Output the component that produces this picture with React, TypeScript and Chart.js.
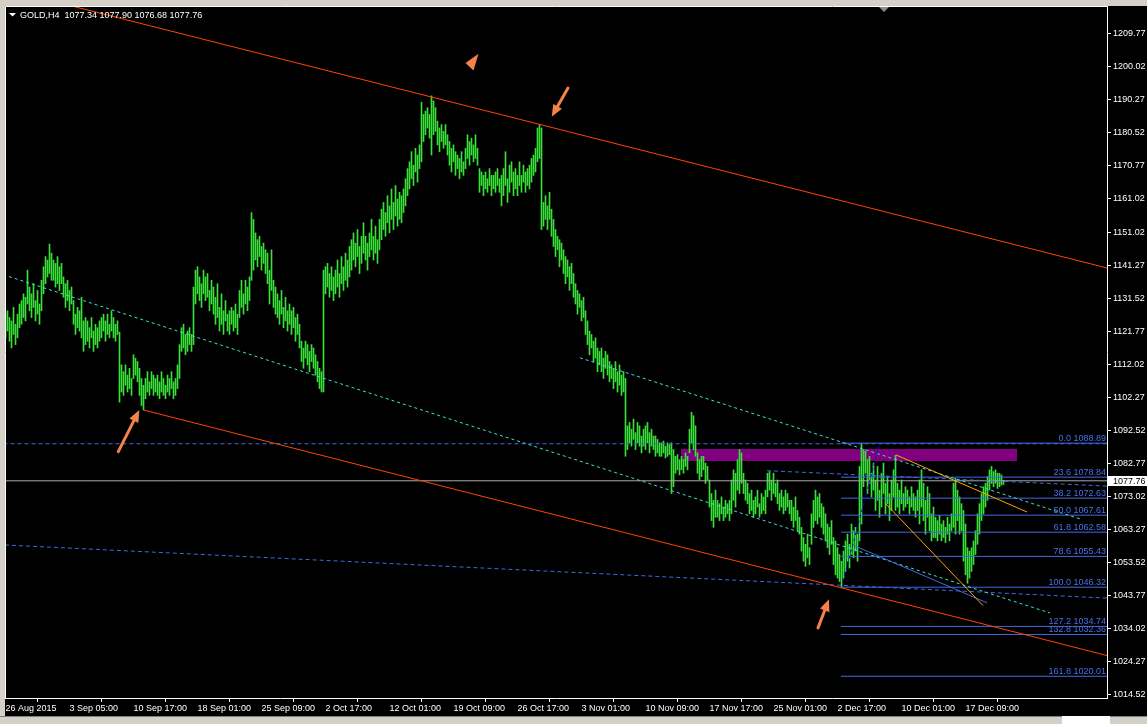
import React, { useEffect, useRef } from 'react';
import { Chart, registerables } from 'chart.js';
Chart.register(...registerables);

// ---- H4 bars (low / high), one per bar index ----
const lows = [
  1120,1122,1119,1117,1121,1118,1120,1123,1124,1126,
  1125,1130,1128,1126,1129,1125,1127,1124,1128,1133,
  1136,1138,1139,1137,1137,1135,1136,1134,1136,1132,
  1129,1131,1128,1130,1124,1121,1123,1122,1120,1116,
  1118,1119,1117,1120,1116,1118,1117,1119,1120,1122,
  1119,1121,1120,1122,1120,1119,1121,1101,1104,1103,
  1106,1104,1105,1103,1108,1109,1107,1103,1100,1098.7,
  1102,1104,1103,1105,1103,1104,1103,1102,1104,1103,
  1102,1104,1103,1105,1102,1103,1105,1108,1116,1117,
  1115,1116,1118,1116,1118,1130,1133,1131,1129,1133,
  1131,1132,1128,1130,1127,1124,1126,1122,1124,1121,
  1125,1122,1121,1124,1122,1123,1121,1126,1129,1127,
  1130,1128,1131,1137,1140,1143,1141,1144,1140,1142,
  1139,1136,1130,1134,1129,1127,1126,1124,1127,1123,
  1125,1122,1124,1121,1123,1119,1121,1117,1113,1111,
  1114,1112,1110,1113,1111,1109,1107,1105,1104,1104,
  1133,1135,1132,1134,1131,1133,1135,1132,1136,1134,
  1137,1135,1138,1140,1143,1141,1144,1139,1142,1145,
  1143,1140,1144,1146,1143,1145,1142,1146,1149,1152,
  1150,1154,1151,1155,1152,1156,1153,1155,1154,1157,
  1159,1162,1164,1167,1165,1169,1166,1170,1172,1178,
  1180,1182,1179,1174,1180,1181,1177,1175,1178,1176,
  1177,1174,1171,1169,1172,1168,1170,1167,1169,1168,
  1170,1173,1171,1174,1172,1173,1171,1163,1165,1162,
  1164,1163,1165,1162,1164,1163,1165,1163,1159,1162,
  1165,1160,1163,1166,1162,1164,1162,1165,1163,1166,
  1163,1165,1164,1166,1168,1169,1172,1173,1152,1153,
  1155,1152,1155,1150,1147,1144,1146,1141,1143,1139,
  1136,1138,1134,1136,1132,1130,1127,1129,1125,1126,
  1121,1118,1115,1117,1113,1114,1110,1112,1110,1108,
  1111,1109,1107,1108,1105,1107,1104,1106,1103,1104,
  1085,1087,1089,1088,1090,1087,1089,1088,1086,1088,
  1087,1089,1086,1088,1087,1085,1086,1085,1085,1086,
  1084.5,1085,1085.5,1074,1076,1080,1081,1079.5,1081,1080,
  1082,1081,1086,1089,1087,1085,1080,1078,1079,1081,
  1077,1078,1070,1066,1064,1067,1067,1066,1068,1066,
  1067,1068,1066,1068,1072,1070,1075,1074,1077,1074,
  1072,1071,1068,1069,1067,1068,1070,1067,1068,1069,
  1068,1073,1075,1072,1074,1073,1071,1069,1070,1068,
  1069,1070,1068,1066,1064,1066,1063,1062,1057,1054,
  1052.5,1055,1053,1059,1064,1066,1065,1067,1064,1062,
  1060,1058,1056,1059,1053,1050,1049,1048,1046.32,1049,
  1051,1054,1052,1056,1055,1057,1054,1060,1065,1076,
  1080,1074,1077,1073,1075,1069,1072,1067,1070,1074,
  1068,1071,1066,1069,1073,1069,1070,1068,1071,1069,
  1070,1071,1068,1070,1069,1067,1069,1065,1070,1066,
  1062,1067,1063,1060,1061,1061,1060,1062,1060,1061,
  1059.5,1062,1060,1063,1064,1062,1066,1062,1063,1054,
  1050,1047.5,1049,1051,1053,1056,1059,1062,1066,1068,
  1070,1072,1075,1077,1076,1077,1075.5,1076,1076.5,1076.68,
];
const highs = [
  1127,1128,1126,1125,1129,1124,1127,1130,1131,1133,
  1132,1140,1135,1133,1136,1131,1134,1130,1137,1141,
  1144,1143,1147.7,1145,1143,1142,1144,1141,1142,1138,
  1136,1137,1134,1135,1131,1127,1129,1128,1132,1125,
  1126,1125,1123,1126,1122,1124,1123,1125,1126,1127,
  1125,1127,1124,1128,1126,1124,1125,1121.7,1112,1110,
  1112,1109,1111,1108,1115,1114,1113,1111,1108,1106,
  1108,1110,1107,1110,1109,1108,1109,1107,1110,1108,
  1106,1109,1108,1110,1107,1108,1112,1118,1123,1124,
  1121,1122,1123,1121,1135,1140,1141,1138,1136,1140,
  1138,1139,1134,1137,1135,1132,1136,1129,1133,1128,
  1131,1127,1128,1129,1128,1130,1127,1134,1137,1133,
  1137,1135,1138,1157,1155,1151,1149,1150,1147,1148,
  1146,1145,1140,1146,1137,1135,1133,1131,1134,1129,
  1132,1128,1130,1128,1129,1126,1127,1124,1119,1117,
  1119,1118,1116,1118,1117,1115,1113,1111,1110,1140,
  1141,1142,1139,1141,1138,1140,1143,1139,1144,1141,
  1145,1143,1147,1149,1151,1148,1152,1147,1150,1154,
  1150,1148,1151,1155,1150,1153,1149,1155,1158,1160,
  1157,1162,1159,1164,1160,1165,1161,1163,1162,1164,
  1167,1170,1172,1175,1171,1176,1174,1177,1189.6,1186,
  1187,1188,1186,1191.5,1190,1188,1184,1182,1183,1181,
  1183,1180,1178,1176,1177,1175,1174,1173,1175,1172,
  1176,1180,1178,1179,1177,1180,1176,1170,1169,1168,
  1169,1167,1170,1168,1168,1169,1170,1167,1168,1170,
  1175,1167,1171,1172,1169,1170,1168,1172,1168,1171,
  1169,1170,1171,1173,1174,1176,1182,1183,1182,1160,
  1162,1159,1163,1158,1155,1152,1150,1149,1148,1146,
  1144,1143,1141,1142,1139,1136,1134,1133,1131,1132,
  1128,1125,1122,1121,1119,1120,1117,1116,1117,1114,
  1116,1115,1113,1112,1111,1113,1110,1112,1109,1110,
  1108,1094,1095,1093,1096,1092,1095,1094,1091,1093,
  1094,1095,1092,1093,1091,1091,1090,1089,1089,1089.5,
  1088,1089,1088.5,1089,1087,1085,1085.5,1084,1085,1084,
  1086,1085,1093,1098,1097,1094,1086,1084,1085,1085,
  1083,1082,1078,1074,1072,1075,1072,1071,1073,1070,
  1072,1071,1072,1078,1081,1080,1084,1087,1086,1080,
  1078,1077,1074,1075,1072,1073,1075,1071,1074,1073,
  1075,1080,1080.5,1078,1080,1077,1078,1074,1075,1073,
  1075,1074,1072,1072,1070,1073,1069,1067,1064,1061,
  1059,1062,1058,1068,1072,1075,1073,1074,1071,1070,
  1068,1065,1064,1066,1061,1060,1058,1056,1054,1057,
  1060,1062,1059,1065,1063,1064,1062,1082,1088.89,1087,
  1086.5,1084,1085,1080,1083,1078,1082,1075,1080,1083,
  1077,1079,1074,1078,1081,1085.3,1077,1075,1078,1074,
  1076,1075,1073,1076,1074,1073,1075,1078,1081,1077,
  1072,1076,1074,1068,1070,1067,1066,1067.5,1065,1066,
  1064,1067,1065,1068,1077,1078.5,1075,1073,1071,1069,
  1065,1058,1057,1058,1060,1063,1068,1071,1074,1076,
  1077,1079,1081,1082,1080.5,1081,1080,1080,1079.5,1077.90,
];

// ---- axes ----
const xTickIndex = [0, 32, 64, 96, 128, 160, 192, 224, 256, 288, 320, 352, 384, 416, 448, 480];
const xTickLabels = [
  '26 Aug 2015', '3 Sep 05:00', '10 Sep 17:00', '18 Sep 01:00', '25 Sep 09:00', '2 Oct 17:00',
  '12 Oct 01:00', '19 Oct 09:00', '26 Oct 17:00', '3 Nov 01:00', '10 Nov 09:00', '17 Nov 17:00',
  '25 Nov 01:00', '2 Dec 17:00', '10 Dec 01:00', '17 Dec 09:00',
];
const yTickValues = [
  1209.77, 1200.02, 1190.27, 1180.52, 1170.77, 1161.02, 1151.02, 1141.27, 1131.52, 1121.77,
  1112.02, 1102.27, 1092.52, 1082.77, 1073.02, 1063.27, 1053.52, 1043.77, 1034.02, 1024.27, 1014.52,
];
const yMin = 1013.59;
const yMax = 1218.04;
const xMin = -0.25;
const xMax = 550.75;

// ---- header ----
const symbolName = 'GOLD,H4';
const lastOHLC = ['1077.34', '1077.90', '1076.68', '1077.76'];
const bidPrice = 1077.76;

// ---- drawn objects (bar index, price) ----
const upperChannel = [{ x: 0, y: 1223.0 }, { x: 551, y: 1140.6 }];
const lowerChannel = [{ x: 68.9, y: 1098.7 }, { x: 551, y: 1026.1 }];
const lowerCyan = [{ x: 1.75, y: 1138.1 }, { x: 522.25, y: 1038.7 }];
const upperCyan = [{ x: 287.25, y: 1114.1 }, { x: 537.25, y: 1066.5 }];
const blueDashTop = [{ x: -1, y: 1088.7 }, { x: 552, y: 1088.7 }];
const blueDashLow = [{ x: -0.25, y: 1058.8 }, { x: 550.75, y: 1043.1 }];
const blueDashMid = [{ x: 380.75, y: 1080.75 }, { x: 550.75, y: 1076.2 }];
const bidLine = [{ x: -1, y: bidPrice }, { x: 552, y: bidPrice }];
const fibDiagonal = [{ x: 418.75, y: 1048.0 }, { x: 436.75, y: 1088.0 }];
const orangeUpper = [{ x: 445.25, y: 1085.4 }, { x: 510.75, y: 1068.55 }];
const orangeSteep = [{ x: 439.75, y: 1071.2 }, { x: 488.75, y: 1040.9 }];
const blueSolid = [{ x: 424.75, y: 1058.5 }, { x: 490.75, y: 1041.7 }];

const fibStart = 417.75;
const fibLevels = ['0.0', '23.6', '38.2', '50.0', '61.8', '78.6', '100.0', '127.2', '132.8', '161.8'];
const fibPrices = [1088.89, 1078.84, 1072.63, 1067.61, 1062.58, 1055.43, 1046.32, 1034.74, 1032.36, 1020.01];

const zone = { x0: 337.75, x1: 505.75, top: 1087.16, bottom: 1083.62 };

const arrows = [
  { from: { x: 56.4, y: 1086.4 }, to: { x: 66.9, y: 1098.7 } },
  { from: { x: 281.25, y: 1193.8 }, to: { x: 273.1, y: 1185.3 } },
  { from: { x: 406.25, y: 1034.3 }, to: { x: 411.75, y: 1042.8 } },
];
const arrowHead = [{ x: 230.0, y: 1201.2 }, { x: 236.5, y: 1203.9 }, { x: 234.0, y: 1199.0 }];

const FONT = '"Liberation Sans", Arial, sans-serif';
const BAR_COLOR = '#39e039';
const RED = '#ff4500';
const CYAN = '#40e0d0';
const ROYAL = '#4169e1';
const ARROW = '#f4824a';

function lineDs(pts: any[], color: string, dash: number[] = [], width = 1) {
  return {
    type: 'line',
    data: pts,
    borderColor: color,
    borderWidth: width,
    borderDash: dash,
    pointRadius: 0,
    fill: false,
    tension: 0,
    order: 0,
  };
}

const overlay = {
  id: 'overlay',
  beforeDatasetsDraw(chart: any) {
    const { ctx, scales } = chart;
    const x = scales.x, y = scales.y;
    ctx.save();
    ctx.fillStyle = '#800080';
    const x0 = x.getPixelForValue(zone.x0);
    const x1 = x.getPixelForValue(zone.x1);
    const y0 = y.getPixelForValue(zone.top);
    const y1 = y.getPixelForValue(zone.bottom);
    ctx.fillRect(x0, y0, x1 - x0, y1 - y0);
    ctx.restore();
  },
  afterDatasetsDraw(chart: any) {
    const { ctx, scales, chartArea } = chart;
    const x = scales.x, y = scales.y;
    ctx.save();
    // fib labels
    ctx.font = `9px ${FONT}`;
    ctx.fillStyle = '#4a70ea';
    ctx.textAlign = 'right';
    ctx.textBaseline = 'alphabetic';
    fibLevels.forEach((lv, i) => {
      const py = y.getPixelForValue(fibPrices[i]);
      ctx.fillText(`${lv} ${fibPrices[i].toFixed(2)}`, chartArea.right - 1, py - 2);
    });
    // arrows
    ctx.fillStyle = ARROW;
    ctx.strokeStyle = ARROW;
    arrows.forEach((a) => {
      const tx = x.getPixelForValue(a.from.x), ty = y.getPixelForValue(a.from.y);
      const hx = x.getPixelForValue(a.to.x), hy = y.getPixelForValue(a.to.y);
      const dx = hx - tx, dy = hy - ty;
      const len = Math.hypot(dx, dy);
      const ux = dx / len, uy = dy / len;
      const headLen = 12, headW = 5;
      const bx = hx - ux * headLen, by = hy - uy * headLen;
      ctx.lineWidth = 3;
      ctx.lineCap = 'round';
      ctx.beginPath();
      ctx.moveTo(tx, ty);
      ctx.lineTo(bx + ux * 2, by + uy * 2);
      ctx.stroke();
      ctx.beginPath();
      ctx.moveTo(hx, hy);
      ctx.lineTo(bx - uy * headW, by + ux * headW);
      ctx.lineTo(bx + uy * headW, by - ux * headW);
      ctx.closePath();
      ctx.fill();
    });
    ctx.beginPath();
    arrowHead.forEach((p, i) => {
      const px = x.getPixelForValue(p.x), py = y.getPixelForValue(p.y);
      if (i === 0) ctx.moveTo(px, py); else ctx.lineTo(px, py);
    });
    ctx.closePath();
    ctx.fill();
    ctx.restore();
  },
  afterDraw(chart: any) {
    const { ctx, scales, chartArea } = chart;
    const y = scales.y;
    ctx.save();
    // frame (left / top)
    ctx.strokeStyle = '#ffffff';
    ctx.lineWidth = 1;
    ctx.beginPath();
    ctx.moveTo(0.5, chartArea.bottom);
    ctx.lineTo(0.5, 0.5);
    ctx.lineTo(chartArea.right + 1, 0.5);
    ctx.stroke();
    // header
    ctx.fillStyle = '#ffffff';
    ctx.beginPath();
    ctx.moveTo(4, 7);
    ctx.lineTo(11, 7);
    ctx.lineTo(7.5, 10.5);
    ctx.closePath();
    ctx.fill();
    ctx.font = `9px ${FONT}`;
    ctx.textAlign = 'left';
    ctx.textBaseline = 'middle';
    ctx.fillText(`${symbolName}  ${lastOHLC.join(' ')}`, 15, 9.5);
    // chart-shift marker
    ctx.fillStyle = '#8c8c8c';
    ctx.beginPath();
    ctx.moveTo(874, 1);
    ctx.lineTo(884, 1);
    ctx.lineTo(879, 6);
    ctx.closePath();
    ctx.fill();
    // bid price box
    const py = Math.round(y.getPixelForValue(bidPrice));
    ctx.fillStyle = '#ffffff';
    ctx.fillRect(chartArea.right + 1, py - 5, 40, 10);
    ctx.fillStyle = '#000000';
    ctx.textBaseline = 'middle';
    ctx.fillText(bidPrice.toFixed(2), chartArea.right + 6, py + 0.5);
    ctx.restore();
  },
};

export default function App() {
  const ref = useRef<HTMLCanvasElement | null>(null);
  useEffect(() => {
    document.body.style.margin = '0';
    const canvas = ref.current;
    if (!canvas) return;
    const barData = lows.map((lo, i) => ({ x: i, y: [lo, highs[i]] }));
    const fibDatasets = fibPrices.map((p) => lineDs([{ x: fibStart, y: p }, { x: 552, y: p }], ROYAL));
    const chart = new Chart(canvas, {
      type: 'bar',
      data: {
        datasets: [
          lineDs(upperChannel, RED),
          lineDs(lowerChannel, RED),
          lineDs(orangeUpper, '#ffa500'),
          lineDs(orangeSteep, '#ffa500'),
          lineDs(blueSolid, ROYAL),
          lineDs(fibDiagonal, '#0000ff', [3, 3]),
          lineDs(lowerCyan, CYAN, [3, 3]),
          lineDs(upperCyan, CYAN, [3, 3]),
          ...fibDatasets,
          lineDs(blueDashTop, ROYAL, [4, 3]),
          lineDs(blueDashLow, ROYAL, [4, 3]),
          lineDs(blueDashMid, ROYAL, [4, 3]),
          lineDs(bidLine, '#a8a8a8'),
          {
            type: 'bar',
            data: barData,
            backgroundColor: BAR_COLOR,
            borderWidth: 0,
            barThickness: 1,
            grouped: false,
            order: 10,
          },
        ] as any,
      },
      options: {
        responsive: false,
        maintainAspectRatio: false,
        animation: false,
        events: [],
        layout: { padding: 0 },
        plugins: { legend: { display: false }, tooltip: { enabled: false } },
        scales: {
          x: {
            type: 'linear',
            min: xMin,
            max: xMax,
            offset: false,
            grid: { drawOnChartArea: false, drawTicks: true, tickLength: 4, color: '#ffffff' },
            border: { display: true, color: '#ffffff' },
            ticks: {
              color: '#ffffff',
              font: { family: FONT, size: 9 },
              align: 'start',
              maxRotation: 0,
              minRotation: 0,
              autoSkip: false,
              padding: 1,
              callback: (v: any) => {
                const k = xTickIndex.indexOf(Number(v));
                return k >= 0 ? xTickLabels[k] : '';
              },
            },
            afterBuildTicks: (s: any) => {
              s.ticks = xTickIndex.map((v) => ({ value: v }));
            },
            afterFit: (s: any) => {
              s.height = 18;
              s.paddingLeft = 0;
              s.paddingRight = 0;
            },
          },
          y: {
            type: 'linear',
            position: 'right',
            min: yMin,
            max: yMax,
            grid: { drawOnChartArea: false, drawTicks: true, tickLength: 4, color: '#ffffff' },
            border: { display: true, color: '#ffffff' },
            ticks: {
              color: '#ffffff',
              font: { family: FONT, size: 9 },
              padding: 2,
              callback: (v: any) => Number(v).toFixed(2),
            },
            afterBuildTicks: (s: any) => {
              s.ticks = yTickValues.map((v) => ({ value: v }));
            },
            afterFit: (s: any) => {
              s.width = 40;
              s.paddingTop = 0;
              s.paddingBottom = 0;
            },
          },
        },
      } as any,
      plugins: [overlay],
    });
    return () => chart.destroy();
  }, []);

  return (
    <div style={{ position: 'relative', width: 1147, height: 724, background: '#d4d0c8', overflow: 'hidden' }}>
      <div style={{ position: 'absolute', left: 5, top: 6, width: 1142, height: 710, background: '#000000' }}>
        <canvas ref={ref} width={1142} height={710} style={{ width: 1142, height: 710, display: 'block' }} />
      </div>
      <div style={{ position: 'absolute', left: 0, top: 716, width: 1147, height: 8, background: '#d4d0c8', borderTop: '1px solid #808080' }} />
      <div style={{ position: 'absolute', left: 1062, top: 716, width: 48, height: 8, background: '#ffffff' }} />
    </div>
  );
}
